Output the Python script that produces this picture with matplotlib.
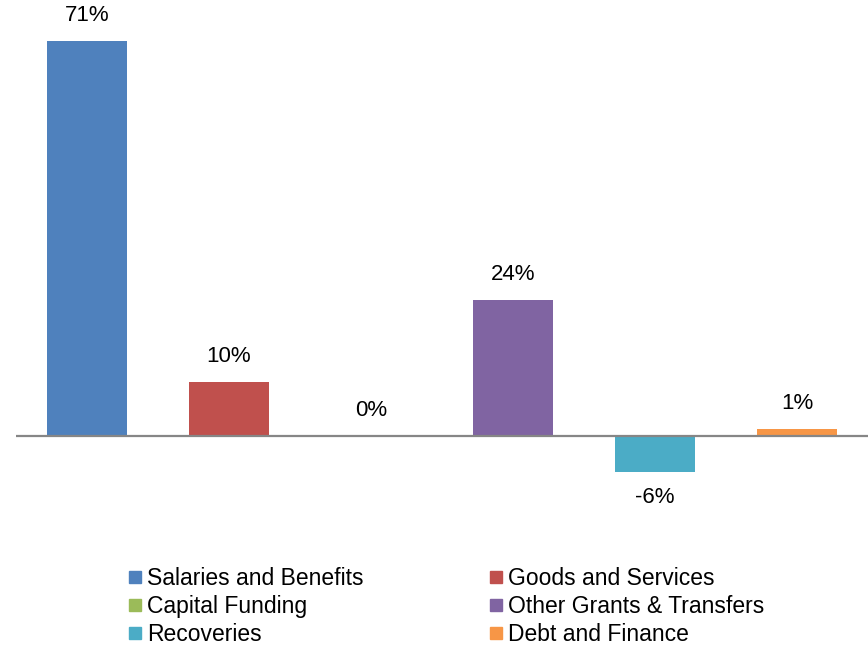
import matplotlib
matplotlib.use("Agg")
import matplotlib.pyplot as plt
from matplotlib.lines import Line2D
import numpy as np

plt.rcParams["font.family"] = ["Liberation Sans", "DejaVu Sans"]

categories = ["Salaries and Benefits", "Goods and Services", "Capital Funding",
              "Other Grants & Transfers", "Recoveries", "Debt and Finance"]
values = [71.0, 9.7, 0.0, 24.4, -6.4, 1.3]
labels = ["71%", "10%", "0%", "24%", "-6%", "1%"]
colors = ["#4F81BD", "#C0504D", "#9BBB59", "#8064A2", "#4BACC6", "#F79646"]

fig = plt.figure(figsize=(8.68, 6.45), dpi=100)
ax = fig.add_axes([16 / 868, (645 - 500) / 645, 852 / 868, 480 / 645])

x = np.arange(len(categories))
ax.bar(x, values, width=0.57, color=colors, zorder=2)
ax.axhline(0, color="#868686", lw=1.6, zorder=3)

for xi, v, lab in zip(x, values, labels):
    if v >= 0:
        ax.annotate(lab, (xi, v), xytext=(0, 11), textcoords="offset points",
                    ha="center", va="bottom", fontsize=16)
    else:
        ax.annotate(lab, (xi, v), xytext=(0, -11), textcoords="offset points",
                    ha="center", va="top", fontsize=16)

ax.set_xlim(-0.5, 5.5)
ax.set_ylim(-11.5, 74.8)
ax.axis("off")

# legend filled row-wise like the original
order = [0, 2, 4, 1, 3, 5]
handles = [Line2D([], [], marker="s", ls="none", markersize=9,
                  markerfacecolor=colors[i], markeredgecolor=colors[i]) for i in order]
fig.legend(handles, [categories[i] for i in order], ncol=2,
           loc="center", bbox_to_anchor=(0.514, 0.059), frameon=False,
           fontsize=16.5, handlelength=0.55, handletextpad=0.25,
           columnspacing=5.5, labelspacing=0.22, borderpad=0)

fig.savefig("out.png", dpi=100)
